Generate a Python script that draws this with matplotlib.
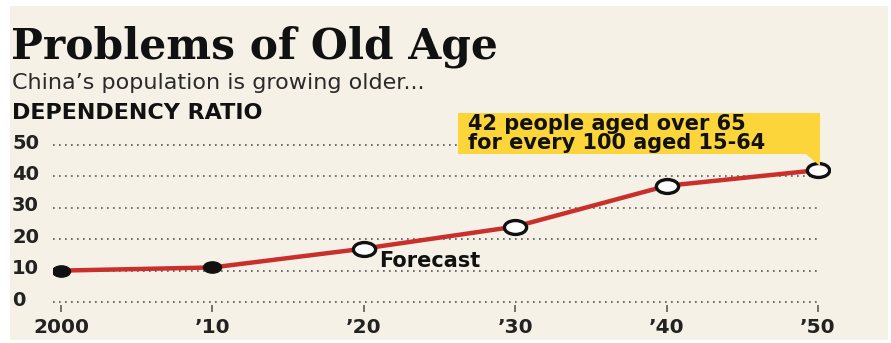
import numpy as np
import matplotlib
matplotlib.use("Agg")
import matplotlib.pyplot as plt
from matplotlib.path import Path
from matplotlib.patches import Rectangle, Polygon
from matplotlib.transforms import blended_transform_factory

# Dependency ratio: people aged 65+ per 100 aged 15-64
years = [2000, 2010, 2020, 2030, 2040, 2050]
ratio = [10, 11, 17, 24, 37, 42]
is_forecast = [False, False, True, True, True, True]
year_labels = ["2000", "\u201910", "\u201920", "\u201930", "\u201940", "\u201950"]
y_ticks = [0, 10, 20, 30, 40, 50]

title = "Problems of Old Age"
subtitle = "China\u2019s population is growing older..."
axis_title = "DEPENDENCY RATIO"
callout = "42 people aged over 65\nfor every 100 aged 15-64"
forecast_label = "Forecast"

BG = "#f5f1e7"
RED = "#c9302c"
YELLOW = "#fcd53a"
INK = "#111111"
SANS = "DejaVu Sans"

W, H = 891, 343
fig = plt.figure(figsize=(W / 100, H / 100), dpi=100, facecolor="white")

# cream panel behind everything
fig.patches.append(Rectangle((10 / W, 1 - 340 / H), 878 / W, 334 / H,
                             transform=fig.transFigure, facecolor=BG,
                             edgecolor="none", zorder=-5))

# axes box in pixel terms
ax_l, ax_r, ax_t, ax_b = 53, 830, 140, 310
ax = fig.add_axes([ax_l / W, 1 - ax_b / H, (ax_r - ax_l) / W, (ax_b - ax_t) / H])
ax.set_zorder(1)
ax.set_facecolor("none")
px_per_year = (818 - 61) / 50
px_per_unit = (302 - 145) / 50
ax.set_xlim(2000 - (61 - ax_l) / px_per_year, 2050 + (ax_r - 818) / px_per_year)
ax.set_ylim(0 - (ax_b - 302) / px_per_unit, 50 + (145 - ax_t) / px_per_unit)
# tick row hangs just below the zero line (set before styling the ticks)
ax.spines["bottom"].set_position(("data", -0.8))
for s in ax.spines.values():
    s.set_visible(False)

# dotted gridlines
for v in y_ticks:
    ax.axhline(v, xmin=0, xmax=(820 - ax_l) / (ax_r - ax_l), color="#555555",
               lw=1.2, ls=(0, (1, 2.6)), zorder=1)

# y labels at the left edge of the panel
trans = blended_transform_factory(fig.transFigure, ax.transData)
for v in y_ticks:
    ax.text(12 / W, v + 0.6, str(v), transform=trans, ha="left", va="center",
            fontsize=14, fontfamily=SANS, fontweight="bold", color="#222222")

# x ticks and labels
ax.set_yticks([])
ax.set_xticks(years)
ax.tick_params(axis="x", length=5, width=1.3, color="#666666", pad=5,
               direction="out")
ax.set_xticklabels(year_labels, fontsize=14.5, fontweight="bold",
                   fontfamily=SANS, color="#222222")

# elliptical marker
circ = Path.unit_circle()
ell = Path(circ.vertices * np.array([1.6, 1.0]), circ.codes)

ax.plot(years, ratio, color=RED, lw=3.2, zorder=3, solid_capstyle="round")
xs = np.array(years)
ys = np.array(ratio)
fc = np.array(is_forecast)
ax.plot(xs[~fc], ys[~fc], ls="none", marker=ell, ms=13, mfc=INK, mec=INK,
        mew=1.0, zorder=4)
ax.plot(xs[fc], ys[fc], ls="none", marker=ell, ms=16, mfc="white", mec=INK,
        mew=2.4, zorder=4)

ax.text(2021.0, ratio[2] - 3.8, forecast_label, ha="left", va="center",
        fontsize=15, fontfamily=SANS, fontweight="bold", color=INK, zorder=5)

# yellow callout box with pointer toward the 2050 value
fig.patches.append(Rectangle((458 / W, 1 - 154 / H), (820 - 458) / W, 41 / H,
                             transform=fig.transFigure, facecolor=YELLOW,
                             edgecolor="none", zorder=2))
fig.patches.append(Polygon([(806 / W, 1 - 154 / H), (820 / W, 1 - 154 / H),
                            (820 / W, 1 - 166 / H)], closed=True,
                           transform=fig.transFigure, facecolor=YELLOW,
                           edgecolor="none", zorder=2))
fig.text(468 / W, 1 - 133.5 / H, callout, ha="left", va="center",
         fontsize=15, fontfamily=SANS, fontweight="bold", color=INK,
         linespacing=0.92, zorder=6)

# headings
fig.text(11 / W, 1 - 59 / H, title, ha="left", va="baseline", fontsize=30.5,
         fontfamily="DejaVu Serif", fontweight="bold", color=INK)
fig.text(12 / W, 1 - 89 / H, subtitle, ha="left", va="baseline", fontsize=16,
         fontfamily=SANS, color="#2a2a2a")
fig.text(12 / W, 1 - 119 / H, axis_title, ha="left", va="baseline", fontsize=16,
         fontfamily=SANS, fontweight="bold", color=INK)

fig.savefig("out.png", dpi=100, facecolor="white")
